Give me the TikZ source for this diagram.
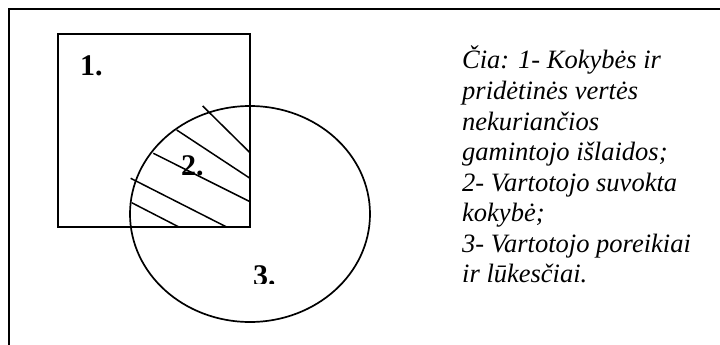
\documentclass[tikz,border=0pt]{standalone}
\usepackage{fontspec}
\setmainfont{Liberation Serif}
\usepackage{xcolor}
\usetikzlibrary{positioning}
\definecolor{FrameBlack}{RGB}{0, 0, 0}

\begin{document}
\begin{tikzpicture}[x=1pt, y=-1pt,
    frame/.style={line width=2.4pt, FrameBlack},
    outline/.style={line width=1.7pt, FrameBlack},
    hatch/.style={line width=1.5pt, FrameBlack},
    numlabel/.style={anchor=base west, inner sep=0pt, font=\fontsize{30}{34}\selectfont\bfseries},
    legend/.style={anchor=base west, inner sep=0pt, font=\fontsize{26.5}{31}\selectfont\itshape}]

    % Page size
    \useasboundingbox (0,0) rectangle (720,345);

    % Constants
    \def\cx{250}  % ellipse centre
    \def\cy{214}

    % Frame (top and left edge only)
    \draw[frame] (9,345) -- (9,9) -- (720,9);

    % 1. Square
    \draw[outline] (58,34) rectangle (250,227);

    % 3. Ellipse
    \draw[outline] (\cx,\cy) ellipse [x radius=120, y radius=108];

    % 2. Hatching of the overlap
    \draw[hatch] (202.7,106) -- (250,152.7);
    \draw[hatch] (176.7,130) -- (250,178.3);
    \draw[hatch] (153.3,153.3) -- (250,201.7);
    \draw[hatch] (130.7,178.3) -- (226,226.7);
    \draw[hatch] (131.7,202.7) -- (178.3,226.7);

    % Labels
    \node[numlabel] (one) at (80,75) {1.};
    \node[numlabel] (two) at (181,175) {2.};
    \begin{scope}
        \clip (230,250) rectangle (300,283.5); % 3. is cut at its foot
        \node[numlabel] (three) at (253,285) {3.};
    \end{scope}

    % Legend
    \foreach \txt [count=\i] in {{Čia: 1- Kokybės ir}, {pridėtinės vertės}, {nekuriančios},
        {gamintojo išlaidos;}, {2- Vartotojo suvokta}, {kokybė;}, {3- Vartotojo poreikiai},
        {ir lūkesčiai.}} {
        \node[legend] (leg\i) at (462, 69+30.5*\i-30.5) {\txt};
    }

\end{tikzpicture}
\end{document}
